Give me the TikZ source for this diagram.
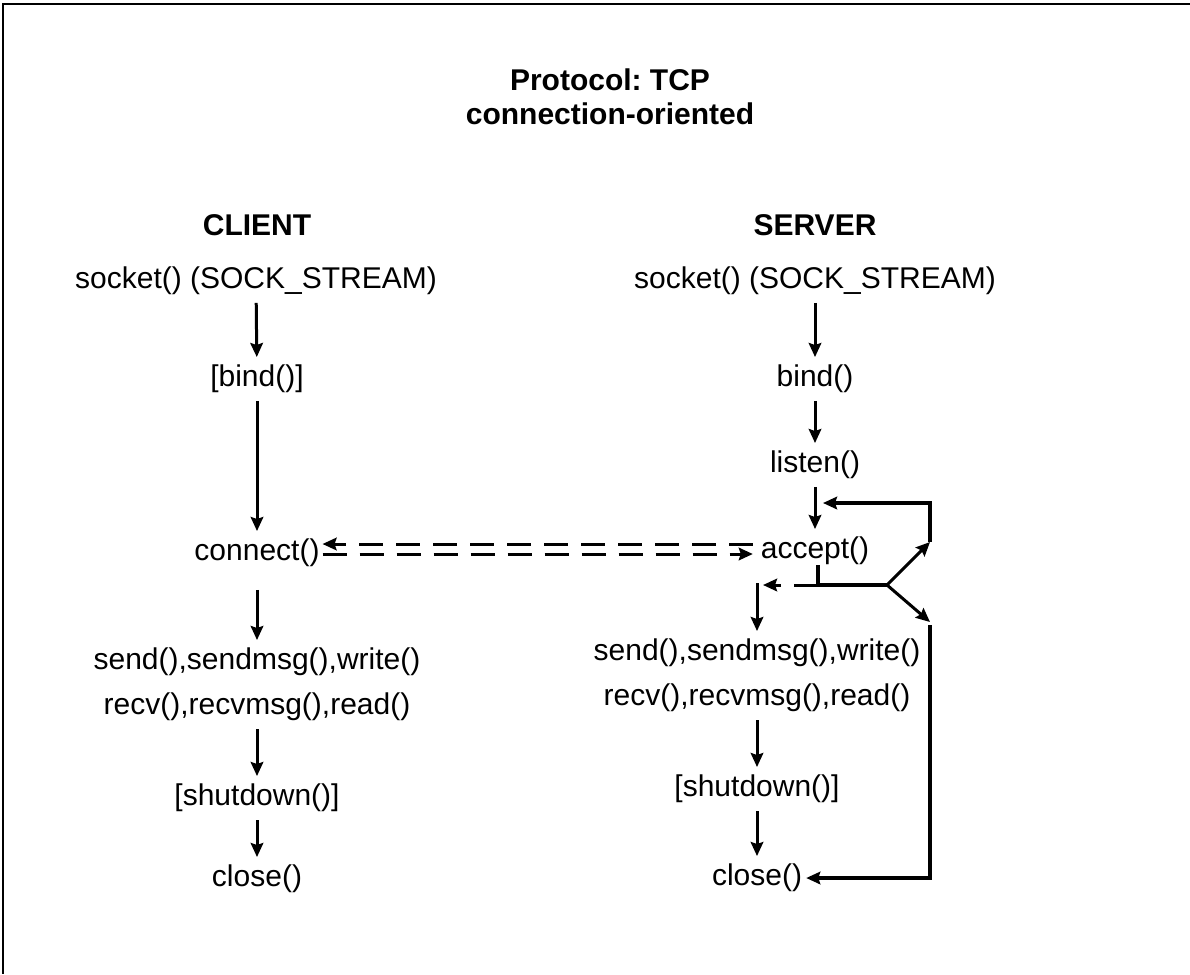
\documentclass[tikz,border=0pt]{standalone}
\usepackage{fontspec}
\setmainfont{Liberation Sans}
\frenchspacing
\usetikzlibrary{arrows.meta,positioning,calc}

\begin{document}
\begin{tikzpicture}[
  x=0.4pt, y=-0.4pt,
  >={Stealth[length=5.6pt,width=5pt,inset=0.8pt]},
  call/.style={font=\fontsize{12}{14}\selectfont, inner sep=3pt},
  head/.style={font=\bfseries\fontsize{12}{13.6}\selectfont, align=center},
  arrow/.style={->, line width=1.2pt},
  loopline/.style={line width=1.3pt},
  dasharrow/.style={->, line width=1.2pt, dash pattern=on 9.6pt off 5.2pt}
]
  \useasboundingbox (0,0) rectangle (1190,974);
  \draw[line width=0.6pt] (1190,4) -- (3,4) -- (3,974);

  % Headings
  \node[head] (title) at (610,97) {Protocol: TCP\\connection-oriented};
  \node[head] (client) at (257,225) {CLIENT};
  \node[head] (server) at (815,225) {SERVER};

  % Client side
  \node[call] (cl_socket) at (256,281) {socket() (SOCK\_STREAM)};
  \node[call] (cl_bind) at (257,379) {[bind()]};
  \node[call, inner xsep=1pt] (con) at (257,553) {connect()};
  \node[call] (cl_send) at (257,662) {send(),sendmsg(),write()};
  \node[call] (cl_recv) at (257,707) {recv(),recvmsg(),read()};
  \node[call] (cl_shut) at (257,798) {[shutdown()]};
  \node[call] (cl_close) at (257,879) {close()};

  % Server side
  \node[call] (sv_socket) at (815,281) {socket() (SOCK\_STREAM)};
  \node[call] (sv_bind) at (815,379) {bind()};
  \node[call] (sv_listen) at (815,465) {listen()};
  \node[call] (acc) at (815,551) {accept()};
  \node[call] (sv_send) at (757,653) {send(),sendmsg(),write()};
  \node[call] (sv_recv) at (757,698) {recv(),recvmsg(),read()};
  \node[call] (sv_shut) at (757,789) {[shutdown()]};
  \node[call, inner xsep=1.5pt] (sv_close) at (757,878) {close()};

  % Helper points
  \coordinate (dashhi) at (0,544);
  \coordinate (dashlo) at (0,554);
  \coordinate (turn) at (818,585);
  \coordinate (fork) at (887,585);
  \coordinate (dashend) at (763,585);
  \coordinate (sendin) at (757,583);
  \coordinate (loopup) at (930,542);
  \coordinate (looptop) at (930,503);
  \coordinate (backin) at (823,503);
  \coordinate (loopdn) at (930,622);

  % Client flow
  \draw[arrow] (cl_socket) -- (cl_bind);
  \draw[arrow] (cl_bind) -- (con);
  \draw[arrow, shorten <=6pt] (con) -- (cl_send);
  \draw[arrow] (cl_recv) -- (cl_shut);
  \draw[arrow] (cl_shut) -- (cl_close);

  % Server flow
  \draw[arrow] (sv_socket) -- (sv_bind);
  \draw[arrow] (sv_bind) -- (sv_listen);
  \draw[arrow] (sv_listen) -- (acc);
  \draw[arrow] (sendin) -- (sv_send);
  \draw[arrow] (sv_recv) -- (sv_shut);
  \draw[arrow] (sv_shut) -- (sv_close);

  % Connection handshake
  \draw[dasharrow] (acc.west |- dashhi) -- (con.east |- dashhi);
  \draw[dasharrow] (con.east |- dashlo) -- (acc.west |- dashlo);

  % Accept loop
  \draw[loopline] ([yshift=3pt]acc.south -| turn) -- (turn) -- (fork);
  \draw[dasharrow] (turn) -- (dashend);
  \draw[arrow] (fork) -- (loopup);
  \draw[arrow] (fork) -- (loopdn);
  \draw[loopline, ->] (loopup) -- (looptop) -- (backin);
  \draw[loopline, ->] ([yshift=-1.2pt]loopdn) |- (sv_close);
\end{tikzpicture}
\end{document}
